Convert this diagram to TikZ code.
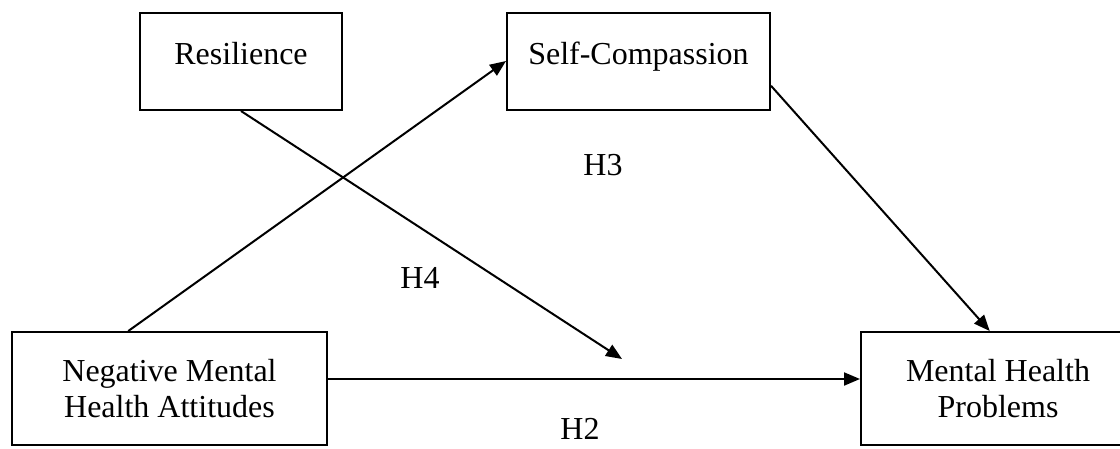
\documentclass[tikz,border=0pt]{standalone}
\usepackage{fontspec}
\setmainfont{Liberation Serif}
\usetikzlibrary{arrows.meta,calc}
\begin{document}
\begin{tikzpicture}[x=1pt,y=-1pt,
        box/.style={draw,line width=2pt,minimum height=97pt,align=center,font=\fontsize{32}{36}\selectfont},
        topbox/.style={box,text height=22pt,text depth=16pt},
        lbl/.style={inner sep=1pt,font=\fontsize{32}{36}\selectfont},
        arr/.style={line width=2pt,-{Triangle[length=16pt,width=13pt]}}]
        \useasboundingbox (0,0) rectangle (1120,448);
        \clip (0,0) rectangle (1120,448);
        \node[topbox,minimum width=202pt] (res) at (241,61.5) {Resilience};
        \node[topbox,minimum width=263pt] (sc) at (638.5,61) {Self-Compassion};
        \node[box,minimum width=315pt,minimum height=113pt] (neg) at (169.5,388.5) {Negative Mental\\Health Attitudes};
        \node[box,minimum width=274pt,minimum height=113pt] (mhp) at (998,388.5) {Mental Health\\Problems};
        \coordinate (mid) at (622,359);
        \draw[arr] ($(neg.north west)!0.37!(neg.north east)$) -- (sc.west);
        \draw[arr] (res.south) -- (mid);
        \draw[arr] ($(sc.north east)!0.75!(sc.south east)$) -- ($(mhp.north west)!0.47!(mhp.north east)$);
        \draw[arr] ([yshift=9.5pt]neg.east) -- ([yshift=9.5pt]mhp.west);
        \node[lbl] (h3) at (603,165) {H3};
        \node[lbl] (h4) at (420,278) {H4};
        \node[lbl] (h2) at (580,429) {H2};
    \end{tikzpicture}
\end{document}
